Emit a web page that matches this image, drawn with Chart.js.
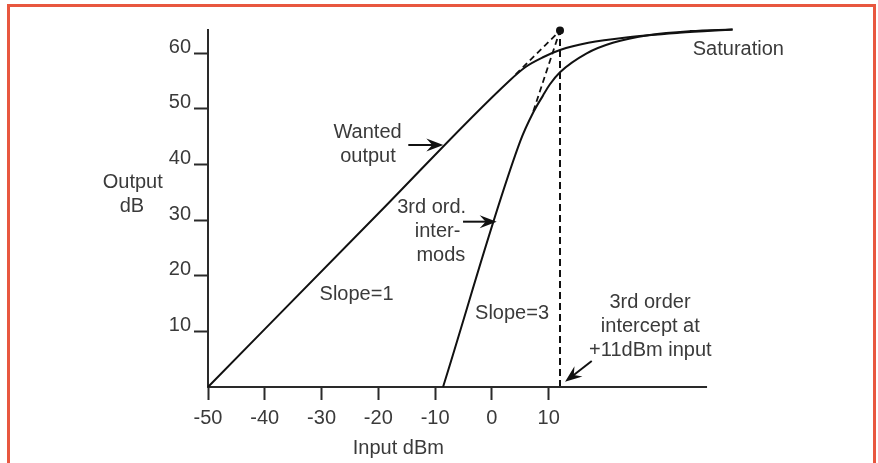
<!DOCTYPE html>
<html><head><meta charset="utf-8">
<script src="https://cdn.jsdelivr.net/npm/chart.js@4.4.1/dist/chart.umd.min.js"></script>
<style>
html,body{margin:0;padding:0;background:#fff;overflow:hidden;}
#wrap{position:relative;width:878px;height:463px;overflow:hidden;}
#frame{position:absolute;left:7px;top:4px;width:863px;height:520px;border:3px solid #e8573f;border-bottom:none;pointer-events:none;}
canvas{position:absolute;left:0;top:0;}
</style></head><body>
<div id="wrap"><canvas id="c" width="878" height="463"></canvas><div id="frame"></div></div>
<script>
// ---- data ----
const xTickValues = [-50, -40, -30, -20, -10, 0, 10];
const yTickValues = [10, 20, 30, 40, 50, 60];
const wantedX = [-50, -20, 3, 6, 9, 12, 17, 24, 33, 42.4];
const wantedY = [0, 31.2, 55, 57.6, 59.3, 60.6, 61.9, 62.9, 63.7, 64.3];
const intermodX = [-8.6, 5, 7.3, 9, 10.2, 12, 16.7, 21.3, 27.8, 35, 42.4];
const intermodY = [0, 44.2, 49.4, 52.4, 54.4, 56.6, 60, 61.9, 63.3, 64, 64.3];
const interceptX = [12];
const interceptY = [64.1];
const wantedExtX = [4.2, 12];
const wantedExtY = [56.2, 64.1];
const intermodExtX = [7.3, 12];
const intermodExtY = [49.6, 64.1];
const axisLineX = [-50, 37.9];
const axisLineY = [0, 0];

// annotation texts (data coordinates, baseline)
const labelTexts = ['Saturation','Wanted','output','3rd ord.','inter-','mods','Slope=1','Slope=3','3rd order','intercept at','+11dBm input','Output','dB','Input dBm'];
const labelX = [43.41, -21.9, -21.82, -10.6, -9.57, -8.99, -23.84, 3.55, 27.86, 27.91, 27.91, -63.25, -63.39, -16.48];
const labelY = [59.79, 44.78, 40.46, 31.29, 26.97, 22.66, 15.65, 12.23, 14.21, 9.89, 5.57, 35.79, 31.47, -12.05];
// arrows (data coordinates: from -> tip)
const arrowFromX = [-14.72, -5.08, 17.59];
const arrowFromY = [43.52, 29.73, 4.68];
const arrowToX = [-8.55, 0.85, 12.89];
const arrowToY = [43.52, 29.73, 0.95];

const textColor = '#3a3a3a';
const axisColor = '#2a2a2a';
const lineColor = '#111111';
const pts = (xs, ys) => xs.map((v, i) => ({x: v, y: ys[i]}));

Chart.defaults.font.family = "'Liberation Sans', Arial, sans-serif";
Chart.defaults.font.size = 20;

const annot = {
  id: 'annot',
  afterDatasetsDraw(chart) {
    const {ctx, scales: {x, y}} = chart;
    ctx.save();
    ctx.font = "20px 'Liberation Sans', Arial, sans-serif";
    ctx.fillStyle = textColor;
    ctx.textAlign = 'center';
    ctx.textBaseline = 'alphabetic';
    labelTexts.forEach((t, i) => ctx.fillText(t, x.getPixelForValue(labelX[i]), y.getPixelForValue(labelY[i])));
    ctx.strokeStyle = lineColor;
    ctx.fillStyle = lineColor;
    ctx.lineWidth = 2;
    arrowFromX.forEach((_, i) => {
      const x1 = x.getPixelForValue(arrowFromX[i]), y1 = y.getPixelForValue(arrowFromY[i]);
      const x2 = x.getPixelForValue(arrowToX[i]), y2 = y.getPixelForValue(arrowToY[i]);
      const a = Math.atan2(y2 - y1, x2 - x1);
      const L = 17, W = 6.5;
      const dx = Math.cos(a), dy = Math.sin(a), px = -dy, py = dx;
      ctx.beginPath();
      ctx.moveTo(x1, y1);
      ctx.lineTo(x2 - dx * L * 0.6, y2 - dy * L * 0.6);
      ctx.stroke();
      ctx.beginPath();
      ctx.moveTo(x2, y2);
      ctx.lineTo(x2 - dx * L + px * W, y2 - dy * L + py * W);
      ctx.lineTo(x2 - dx * L * 0.65, y2 - dy * L * 0.65);
      ctx.lineTo(x2 - dx * L - px * W, y2 - dy * L - py * W);
      ctx.closePath();
      ctx.fill();
    });
    ctx.restore();
  }
};

const lineDs = (data, extra) => Object.assign({
  data, showLine: true, borderColor: lineColor, backgroundColor: lineColor,
  borderWidth: 2, pointRadius: 0, fill: false, clip: false
}, extra || {});

new Chart(document.getElementById('c'), {
  type: 'scatter',
  data: {
    datasets: [
      lineDs(pts(wantedX, wantedY), {cubicInterpolationMode: 'monotone'}),
      lineDs(pts(intermodX, intermodY), {cubicInterpolationMode: 'monotone'}),
      lineDs(pts(axisLineX, axisLineY), {borderColor: axisColor}),
      lineDs(pts([interceptX[0], interceptX[0]], [0, interceptY[0]]), {borderDash: [7, 4]}),
      lineDs(pts(wantedExtX, wantedExtY), {borderDash: [6, 4], borderWidth: 1.8}),
      lineDs(pts(intermodExtX, intermodExtY), {borderDash: [6, 4], borderWidth: 1.8}),
      {data: pts(interceptX, interceptY), showLine: false, pointRadius: 4, pointBackgroundColor: lineColor, pointBorderColor: lineColor, pointBorderWidth: 0, clip: false}
    ]
  },
  options: {
    responsive: false,
    animation: false,
    devicePixelRatio: 1,
    layout: {padding: {left: 0, top: 30, right: 142, bottom: 0}},
    plugins: {legend: {display: false}, tooltip: {enabled: false}},
    scales: {
      x: {
        type: 'linear', min: -50, max: 43,
        afterBuildTicks: s => { s.ticks = xTickValues.map(v => ({value: v})); },
        afterFit: s => { s.height = 76; },
        border: {display: false},
        grid: {drawOnChartArea: false, drawTicks: true, tickLength: 13, tickColor: axisColor, tickWidth: 2, color: axisColor},
        ticks: {color: textColor, font: {size: 20}, padding: 6, maxRotation: 0, autoSkip: false}
      },
      y: {
        type: 'linear', min: 0, max: 64.2,
        afterBuildTicks: s => { s.ticks = yTickValues.map(v => ({value: v})); },
        afterFit: s => { s.width = 208; },
        border: {display: true, color: axisColor, width: 2},
        grid: {drawOnChartArea: false, drawTicks: true, tickLength: 14, tickColor: axisColor, tickWidth: 2, color: axisColor},
        ticks: {color: textColor, font: {size: 20}, padding: 3, labelOffset: -6, autoSkip: false}
      }
    }
  },
  plugins: [annot]
});
</script>
</body></html>
